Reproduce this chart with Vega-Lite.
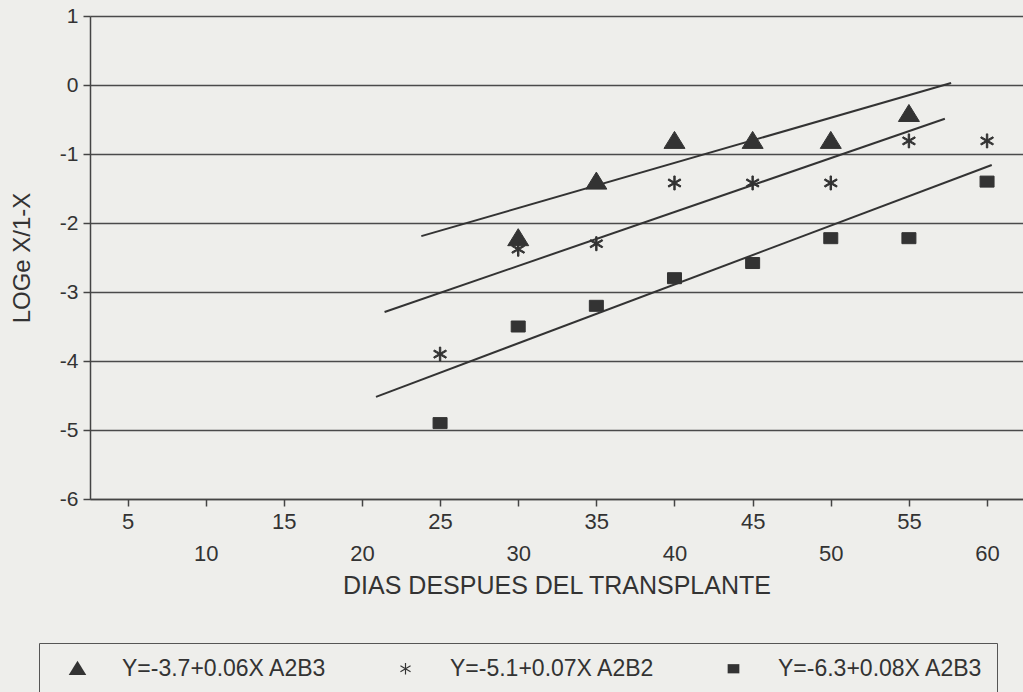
{
  "$schema": "https://vega.github.io/schema/vega-lite/v6.json",
  "width": 933,
  "height": 483,
  "autosize": {"type": "none"},
  "padding": {"left": 90, "top": 16, "right": 0, "bottom": 193},
  "background": "#eeeeeb",
  "config": {
    "view": {"stroke": null},
    "font": "Liberation Sans",
    "axis": {
      "labelFont": "Liberation Sans",
      "titleFont": "Liberation Sans",
      "labelColor": "#333333",
      "titleColor": "#333333",
      "domainColor": "#444444",
      "tickColor": "#444444",
      "domainWidth": 1.5,
      "tickWidth": 1.5
    },
    "legend": {"labelFont": "Liberation Sans"}
  },
  "datasets": {
    "pts": [
      {"serie": "Y=-3.7+0.06X A2B3", "dias": 30, "v": -2.22},
      {"serie": "Y=-3.7+0.06X A2B3", "dias": 35, "v": -1.4},
      {"serie": "Y=-3.7+0.06X A2B3", "dias": 40, "v": -0.81},
      {"serie": "Y=-3.7+0.06X A2B3", "dias": 45, "v": -0.81},
      {"serie": "Y=-3.7+0.06X A2B3", "dias": 50, "v": -0.81},
      {"serie": "Y=-3.7+0.06X A2B3", "dias": 55, "v": -0.42},
      {"serie": "Y=-5.1+0.07X A2B2", "dias": 25, "v": -3.9},
      {"serie": "Y=-5.1+0.07X A2B2", "dias": 30, "v": -2.38},
      {"serie": "Y=-5.1+0.07X A2B2", "dias": 35, "v": -2.3},
      {"serie": "Y=-5.1+0.07X A2B2", "dias": 40, "v": -1.42},
      {"serie": "Y=-5.1+0.07X A2B2", "dias": 45, "v": -1.42},
      {"serie": "Y=-5.1+0.07X A2B2", "dias": 50, "v": -1.42},
      {"serie": "Y=-5.1+0.07X A2B2", "dias": 55, "v": -0.81},
      {"serie": "Y=-5.1+0.07X A2B2", "dias": 60, "v": -0.81},
      {"serie": "Y=-6.3+0.08X A2B3", "dias": 25, "v": -4.9},
      {"serie": "Y=-6.3+0.08X A2B3", "dias": 30, "v": -3.5},
      {"serie": "Y=-6.3+0.08X A2B3", "dias": 35, "v": -3.2},
      {"serie": "Y=-6.3+0.08X A2B3", "dias": 40, "v": -2.8},
      {"serie": "Y=-6.3+0.08X A2B3", "dias": 45, "v": -2.58},
      {"serie": "Y=-6.3+0.08X A2B3", "dias": 50, "v": -2.22},
      {"serie": "Y=-6.3+0.08X A2B3", "dias": 55, "v": -2.22},
      {"serie": "Y=-6.3+0.08X A2B3", "dias": 60, "v": -1.4}
    ],
    "lines": [
      {"serie": "Y=-3.7+0.06X A2B3", "dias": 23.8, "v": -2.19},
      {"serie": "Y=-3.7+0.06X A2B3", "dias": 57.7, "v": 0.03},
      {"serie": "Y=-5.1+0.07X A2B2", "dias": 21.45, "v": -3.29},
      {"serie": "Y=-5.1+0.07X A2B2", "dias": 57.3, "v": -0.49},
      {"serie": "Y=-6.3+0.08X A2B3", "dias": 20.9, "v": -4.52},
      {"serie": "Y=-6.3+0.08X A2B3", "dias": 60.3, "v": -1.16}
    ]
  },
  "layer": [
    {
      "data": {"name": "lines"},
      "mark": {"type": "line", "color": "#333333", "strokeWidth": 2, "clip": true},
      "encoding": {
        "x": {
          "field": "dias", "type": "quantitative",
          "scale": {"domain": [2.6, 62.3], "nice": false, "zero": false},
          "axis": {
            "title": "DIAS DESPUES DEL TRANSPLANTE",
            "titleFontSize": 25,
            "titleFontWeight": "normal",
            "titlePadding": 9,
            "values": [5, 10, 15, 20, 25, 30, 35, 40, 45, 50, 55, 60],
            "labelExpr": "'' + datum.value",
            "grid": false,
            "tickSize": 7,
            "labelPadding": {"condition": {"test": "datum.value % 10 === 0", "value": 37}, "value": 5},
            "labelFontSize": 22,
            "labelOverlap": false,
            "labelFlush": false
          }
        },
        "y": {
          "field": "v", "type": "quantitative",
          "scale": {"domain": [-6, 1], "nice": false, "zero": false},
          "axis": {
            "title": "LOGe X/1-X",
            "titleFontSize": 24,
            "titleFontWeight": "normal",
            "titlePadding": 25,
            "values": [-6, -5, -4, -3, -2, -1, 0, 1],
            "labelExpr": "'' + datum.value",
            "grid": true,
            "gridColor": "#4a4a4a",
            "gridWidth": 1.5,
            "gridOpacity": 1,
            "tickSize": 7,
            "labelPadding": 5,
            "labelFontSize": 21,
            "labelOverlap": false,
            "labelFlush": false
          }
        },
        "detail": {"field": "serie"}
      }
    },
    {
      "data": {"name": "pts"},
      "mark": {"type": "point", "filled": true, "opacity": 1, "color": "#333333", "stroke": "#333333", "strokeWidth": 1, "size": 100},
      "encoding": {
        "x": {"field": "dias", "type": "quantitative"},
        "y": {"field": "v", "type": "quantitative"},
        "shape": {
          "field": "serie", "type": "nominal",
          "scale": {
            "domain": ["Y=-3.7+0.06X A2B3", "Y=-5.1+0.07X A2B2", "Y=-6.3+0.08X A2B3"],
            "range": [
              "M0,-1.9L2.1,1.5L-2.1,1.5Z",
              "M-0.14,-1.4L0.14,-1.4L0.14,1.4L-0.14,1.4Z M-1.14,-0.83L1.28,0.57L1.14,0.83L-1.28,-0.57Z M-1.28,0.57L1.14,-0.83L1.28,-0.57L-1.14,0.83Z",
              "M-1.4,-1.1H1.4V1.1H-1.4Z"
            ]
          },
          "legend": {
            "title": null,
            "orient": "none",
            "legendX": -51,
            "legendY": 627,
            "direction": "horizontal",
            "columns": 3,
            "padding": 14,
            "strokeColor": "#555555",
            "fillColor": "#eeeeeb",
            "labelFontSize": 23,
            "labelColor": "#333333",
            "labelLimit": 400,
            "labelOffset": 33,
            "columnPadding": 54,
            "symbolSize": 70,
            "symbolFillColor": "#333333",
            "symbolStrokeColor": "#333333",
            "symbolStrokeWidth": 1,
            "symbolOffset": 13
          }
        }
      }
    }
  ]
}
